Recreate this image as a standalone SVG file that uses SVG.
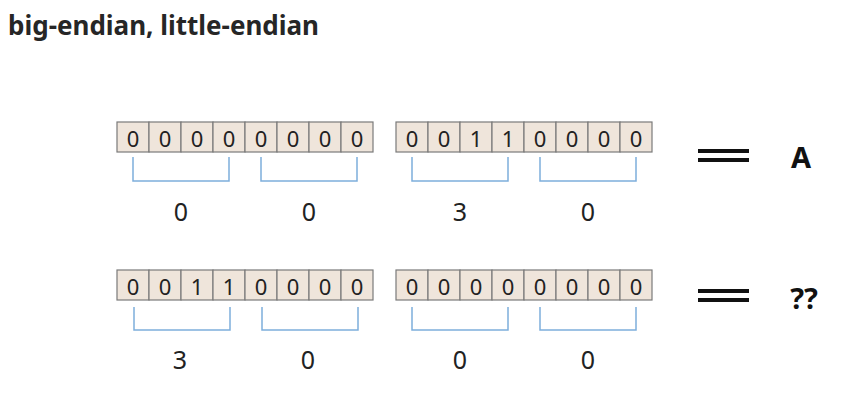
<svg xmlns="http://www.w3.org/2000/svg" width="863" height="410" viewBox="0 0 863 410">
<style>
.cell{fill:#EFE5DB;stroke:#7A7A7A;stroke-width:1.2}
.bit{font-family:"Noto Sans","DejaVu Sans",sans-serif;font-size:22px;fill:#222;text-anchor:middle}
.lbl{font-family:"Noto Sans","DejaVu Sans",sans-serif;font-size:25px;fill:#222;text-anchor:middle}
.br{fill:none;stroke:#7EAEDC;stroke-width:1.5}
.eq{stroke:#111;stroke-width:4}
.big{font-family:"Noto Sans","DejaVu Sans",sans-serif;font-weight:bold;font-size:29px;fill:#111;text-anchor:middle}
.title{font-family:"Noto Sans","DejaVu Sans",sans-serif;font-weight:bold;font-size:26px;fill:#262626}
</style>
<defs>
<g id="cells">
<rect class="cell" x="0" y="0" width="32" height="30"/>
<rect class="cell" x="32" y="0" width="32" height="30"/>
<rect class="cell" x="64" y="0" width="32" height="30"/>
<rect class="cell" x="96" y="0" width="32" height="30"/>
<rect class="cell" x="128" y="0" width="32" height="30"/>
<rect class="cell" x="160" y="0" width="32" height="30"/>
<rect class="cell" x="192" y="0" width="32" height="30"/>
<rect class="cell" x="224" y="0" width="32" height="30"/>
</g>
</defs>
<text class="title" x="8" y="35">big-endian, little-endian</text>

<g id="row1-byte1" transform="translate(117,122)">
<use href="#cells"/>
<text class="bit" x="16" y="25">0</text><text class="bit" x="48" y="25">0</text><text class="bit" x="80" y="25">0</text><text class="bit" x="112" y="25">0</text>
<text class="bit" x="144" y="25">0</text><text class="bit" x="176" y="25">0</text><text class="bit" x="208" y="25">0</text><text class="bit" x="240" y="25">0</text>
</g>
<g id="row1-byte2" transform="translate(396,122)">
<use href="#cells"/>
<text class="bit" x="16" y="25">0</text><text class="bit" x="48" y="25">0</text><text class="bit" x="80" y="25">1</text><text class="bit" x="112" y="25">1</text>
<text class="bit" x="144" y="25">0</text><text class="bit" x="176" y="25">0</text><text class="bit" x="208" y="25">0</text><text class="bit" x="240" y="25">0</text>
</g>
<g id="row2-byte1" transform="translate(117,270)">
<use href="#cells"/>
<text class="bit" x="16" y="25">0</text><text class="bit" x="48" y="25">0</text><text class="bit" x="80" y="25">1</text><text class="bit" x="112" y="25">1</text>
<text class="bit" x="144" y="25">0</text><text class="bit" x="176" y="25">0</text><text class="bit" x="208" y="25">0</text><text class="bit" x="240" y="25">0</text>
</g>
<g id="row2-byte2" transform="translate(396,270)">
<use href="#cells"/>
<text class="bit" x="16" y="25">0</text><text class="bit" x="48" y="25">0</text><text class="bit" x="80" y="25">0</text><text class="bit" x="112" y="25">0</text>
<text class="bit" x="144" y="25">0</text><text class="bit" x="176" y="25">0</text><text class="bit" x="208" y="25">0</text><text class="bit" x="240" y="25">0</text>
</g>

<g id="connectors">
<path class="br" d="M133,157V181H229V157 M261,157V181H357V157 M412,157V181H508V157 M540,157V181H636V157"/>
<path class="br" d="M134,307V330H230V307 M262,307V330H358V307 M412,307V330H508V307 M540,307V330H636V307"/>
<line class="eq" x1="698" y1="151" x2="749" y2="151"/>
<line class="eq" x1="698" y1="160" x2="749" y2="160"/>
<line class="eq" x1="698" y1="291" x2="749" y2="291"/>
<line class="eq" x1="698" y1="300" x2="749" y2="300"/>
</g>

<g id="labels">
<text class="lbl" x="181" y="221">0</text>
<text class="lbl" x="309" y="221">0</text>
<text class="lbl" x="460" y="221">3</text>
<text class="lbl" x="588" y="221">0</text>
<text class="lbl" x="180" y="369">3</text>
<text class="lbl" x="308" y="369">0</text>
<text class="lbl" x="460" y="369">0</text>
<text class="lbl" x="588" y="369">0</text>
</g>
<g id="result-A"><text class="big" x="801" y="168">A</text></g>
<g id="result-unknown"><text class="big" x="804" y="309">??</text></g>
</svg>
